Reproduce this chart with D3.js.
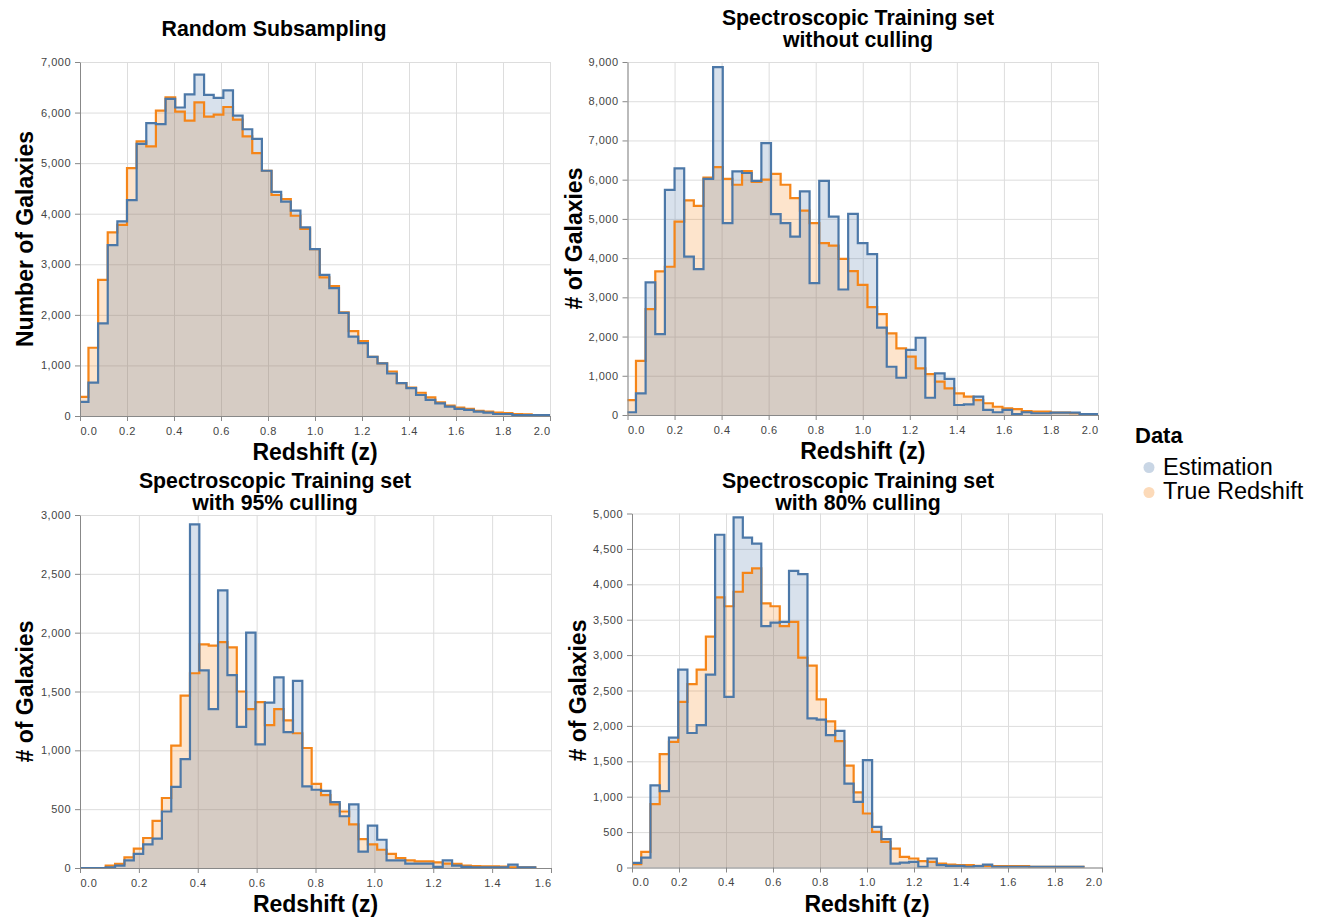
<!DOCTYPE html>
<html lang="en">

<head>
    <meta charset="UTF-8">
    <title>Redshift Distributions</title>
    <style>
        body {
            margin: 0;
            background: #fff;
            font-family: "Liberation Sans", Arial, Helvetica, sans-serif;
        }

        .tick text {
            font-family: "Liberation Sans", Arial, Helvetica, sans-serif;
            font-size: 11px;
            fill: #444;
            letter-spacing: 0.5px;
        }

        .axis .domain,
        .axis .tick line {
            stroke: #888;
        }

        .grid line {
            stroke: #ddd;
        }

        .grid .domain {
            display: none;
        }

        .panel-title {
            font-size: 21.3px;
            font-weight: bold;
            text-anchor: middle;
        }

        .axis-title {
            font-size: 23px;
            font-weight: bold;
            text-anchor: middle;
        }

        .legend-title {
            font-size: 22px;
            font-weight: bold;
        }

        .legend-label {
            font-size: 23.5px;
        }
    </style>
</head>

<body>
    <div id="chart"></div>
    <script src="https://d3js.org/d3.v7.min.js"></script>
    <script>
        // ---- data ----
        const seriesNames = ["Estimation", "True Redshift"];

        const panelTitles = [
            ["Random Subsampling"],
            ["Spectroscopic Training set", "without culling"],
            ["Spectroscopic Training set", "with 95% culling"],
            ["Spectroscopic Training set", "with 80% culling"]
        ];
        const yTitles = ["Number of Galaxies", "# of Galaxies", "# of Galaxies", "# of Galaxies"];
        const xTitle = "Redshift (z)";

        const xTicksTo2 = [0, 0.2, 0.4, 0.6, 0.8, 1.0, 1.2, 1.4, 1.6, 1.8, 2.0];
        const xTicksTo16 = [0, 0.2, 0.4, 0.6, 0.8, 1.0, 1.2, 1.4, 1.6];
        const yTicksRandom = [0, 1000, 2000, 3000, 4000, 5000, 6000, 7000];
        const yTicksNoCull = [0, 1000, 2000, 3000, 4000, 5000, 6000, 7000, 8000, 9000];
        const yTicks95 = [0, 500, 1000, 1500, 2000, 2500, 3000];
        const yTicks80 = [0, 500, 1000, 1500, 2000, 2500, 3000, 3500, 4000, 4500, 5000];

        // histogram bins: left edge of first bin and bin width (redshift units)
        const binStart = [-0.005, -0.005, -0.008, 0.0];
        const binWidth = [0.041, 0.041, 0.0318, 0.0393];

        const estRandom = [280, 660, 1830, 3380, 3850, 4270, 5380, 5790, 5770, 6270, 6100, 6360, 6750, 6350, 6290, 6440,
            5940, 5670, 5480, 4850, 4430, 4240, 4060, 3730, 3300, 2790, 2530, 2040, 1570, 1440, 1170, 1040, 840, 650, 550,
            415, 320, 250, 185, 140, 120, 85, 65, 40, 40, 20, 20, 20, 20];
        const trueRandom = [380, 1350, 2690, 3630, 3780, 4900, 5430, 5330, 6040, 6300, 6020, 5840, 6200, 5920, 5960, 6110,
            5860, 5530, 5200, 4850, 4370, 4290, 3960, 3700, 3300, 2740, 2570, 2050, 1680, 1480, 1170, 1040, 880, 650, 560,
            460, 370, 270, 205, 165, 140, 100, 85, 65, 55, 40, 35, 20, 15];

        const estNoCull = [70, 550, 3380, 2060, 5740, 6290, 4040, 3720, 6020, 8870, 4890, 6210, 6170, 5970, 6930, 5120,
            4890, 4550, 5700, 3360, 5970, 5060, 3200, 5130, 4380, 4100, 2230, 1230, 950, 1660, 1970, 440, 1060, 920, 255,
            270, 470, 130, 70, 130, 20, 70, 45, 45, 60, 60, 60, 20, 20];
        const trueNoCull = [380, 1380, 2700, 3660, 3780, 4930, 5470, 5330, 6050, 6320, 6020, 5870, 6220, 5940, 6000, 6150,
            5870, 5530, 5210, 4890, 4380, 4320, 3980, 3670, 3320, 2750, 2570, 2080, 1700, 1490, 1190, 1040, 850, 680, 550,
            470, 380, 300, 210, 170, 150, 100, 85, 85, 60, 60, 45, 25, 20];

        const est95 = [0, 0, 0, 5, 20, 65, 120, 200, 250, 480, 690, 925, 2920, 1680, 1350, 2360, 1640, 1200, 2000, 1050,
            1405, 1620, 1155, 1590, 693, 665, 655, 560, 440, 540, 140, 360, 240, 65, 65, 37, 37, 37, 10, 65, 20, 10, 5, 5,
            5, 5, 28, 5, 5];
        const true95 = [0, 0, 0, 20, 35, 90, 165, 255, 400, 595, 1040, 1465, 1655, 1900, 1890, 1920, 1875, 1500, 1350, 1410,
            1215, 1350, 1255, 1145, 1020, 715, 620, 540, 480, 370, 245, 200, 155, 120, 85, 65, 57, 57, 48, 37, 35, 20, 17,
            14, 14, 11, 5, 5, 5];

        const est80 = [66, 140, 1160, 1080, 1835, 2795, 1900, 2010, 2725, 4700, 2410, 4945, 4660, 4575, 3410, 3460, 3470,
            4190, 4145, 2105, 2090, 1870, 1930, 1185, 927, 1516, 575, 400, 56, 70, 80, 10, 127, 33, 24, 24, 10, 19, 42, 10,
            10, 10, 10, 10, 10, 10, 10, 10, 10];
        const true80 = [47, 220, 895, 1600, 1775, 2340, 2590, 2795, 3260, 3815, 3690, 3895, 4160, 4225, 3730, 3690, 3410,
            3470, 2965, 2850, 2375, 2065, 1785, 1440, 1060, 763, 504, 363, 268, 150, 127, 90, 80, 56, 42, 33, 33, 24, 24,
            19, 19, 19, 19, 10, 10, 10, 10, 10, 10];

        const panels = [
            { est: estRandom, tru: trueRandom, xTicks: xTicksTo2, yTicks: yTicksRandom },
            { est: estNoCull, tru: trueNoCull, xTicks: xTicksTo2, yTicks: yTicksNoCull },
            { est: est95, tru: true95, xTicks: xTicksTo16, yTicks: yTicks95 },
            { est: est80, tru: true80, xTicks: xTicksTo2, yTicks: yTicks80 }
        ];

        // ---- layout (pixels) ----
        const layout = [
            { left: 80, top: 62, width: 470, height: 354, titleX: 274, titleY: [36], yTitleX: 33 },
            { left: 627.5, top: 62, width: 470.5, height: 353, titleX: 858, titleY: [24.5, 46.5], yTitleX: 582 },
            { left: 80, top: 515, width: 471, height: 353, titleX: 275, titleY: [488, 509.5], yTitleX: 33 },
            { left: 632, top: 513.5, width: 470, height: 354, titleX: 858, titleY: [488, 509.5], yTitleX: 586 }
        ];

        const colors = { "Estimation": "#4c78a8", "True Redshift": "#f58518" };

        const svg = d3.select("#chart").append("svg")
            .attr("width", 1319)
            .attr("height", 917);

        function stepPoints(values, start, width) {
            const pts = values.map((v, k) => ({ z: start + k * width, n: v }));
            pts.push({ z: start + values.length * width, n: values[values.length - 1] });
            return pts;
        }

        panels.forEach((p, i) => {
            const L = layout[i];
            const g = svg.append("g")
                .attr("transform", "translate(" + L.left + "," + L.top + ")");

            const x = d3.scaleLinear()
                .domain([0, p.xTicks[p.xTicks.length - 1]])
                .range([0, L.width]);
            const y = d3.scaleLinear()
                .domain([0, p.yTicks[p.yTicks.length - 1]])
                .range([L.height, 0]);

            // grid
            g.append("g").attr("class", "grid")
                .call(d3.axisLeft(y).tickValues(p.yTicks).tickSize(-L.width).tickFormat(""));
            g.append("g").attr("class", "grid")
                .attr("transform", "translate(0," + L.height + ")")
                .call(d3.axisBottom(x).tickValues(p.xTicks).tickSize(-L.height).tickFormat(""));

            g.append("clipPath").attr("id", "clip" + i)
                .append("rect")
                .attr("width", L.width)
                .attr("height", L.height);

            const area = d3.area()
                .curve(d3.curveStepAfter)
                .x(d => x(d.z))
                .y0(y(0))
                .y1(d => y(d.n));
            const line = d3.line()
                .curve(d3.curveStepAfter)
                .x(d => x(d.z))
                .y(d => y(d.n));

            const series = [
                { name: "True Redshift", pts: stepPoints(p.tru, binStart[i], binWidth[i]) },
                { name: "Estimation", pts: stepPoints(p.est, binStart[i], binWidth[i]) }
            ];

            const plot = g.append("g").attr("clip-path", "url(#clip" + i + ")");
            series.forEach(s => {
                plot.append("path")
                    .attr("d", area(s.pts))
                    .attr("fill", colors[s.name])
                    .attr("fill-opacity", 0.22);
            });
            series.forEach(s => {
                plot.append("path")
                    .attr("d", line(s.pts))
                    .attr("fill", "none")
                    .attr("stroke", colors[s.name])
                    .attr("stroke-width", 2.2);
            });

            // axes
            const xg = g.append("g").attr("class", "axis")
                .attr("transform", "translate(0," + L.height + ")")
                .call(d3.axisBottom(x).tickValues(p.xTicks).tickFormat(d3.format(".1f"))
                    .tickSize(5).tickSizeOuter(0).tickPadding(6));
            xg.selectAll(".tick text")
                .attr("text-anchor", (d, k, n) => k === 0 ? "start" : (k === n.length - 1 ? "end" : "middle"));

            g.append("g").attr("class", "axis")
                .call(d3.axisLeft(y).tickValues(p.yTicks).tickFormat(d3.format(","))
                    .tickSize(5).tickSizeOuter(0).tickPadding(4));

            // titles
            const title = svg.append("text")
                .attr("class", "panel-title");
            panelTitles[i].forEach((t, k) => {
                title.append("tspan")
                    .attr("x", L.titleX)
                    .attr("y", L.titleY[k])
                    .text(t);
            });

            svg.append("text")
                .attr("class", "axis-title")
                .attr("x", L.left + L.width / 2)
                .attr("y", L.top + L.height + 44)
                .text(xTitle);

            svg.append("text")
                .attr("class", "axis-title")
                .attr("transform", "translate(" + L.yTitleX + "," + (L.top + L.height / 2) + ") rotate(-90)")
                .text(yTitles[i]);
        });

        // legend
        const legend = svg.append("g").attr("transform", "translate(1135,443)");
        legend.append("text")
            .attr("class", "legend-title")
            .text("Data");
        seriesNames.forEach((name, k) => {
            legend.append("circle")
                .attr("cx", 14)
                .attr("cy", 24.5 + k * 25)
                .attr("r", 5.5)
                .attr("fill", colors[name])
                .attr("fill-opacity", 0.3);
            legend.append("text")
                .attr("class", "legend-label")
                .attr("x", 28)
                .attr("y", 31.5 + k * 24)
                .text(name);
        });
    </script>
</body>

</html>
